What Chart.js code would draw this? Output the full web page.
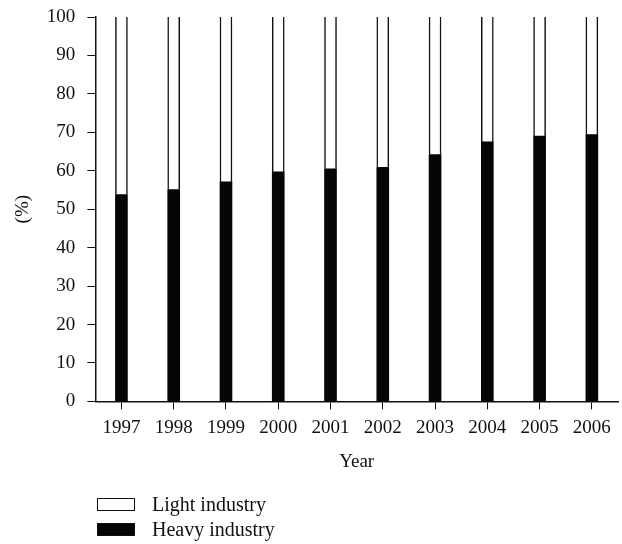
<!DOCTYPE html>
<html>
<head>
<meta charset="utf-8">
<script src="https://cdn.jsdelivr.net/npm/chart.js@4"></script>
<style>
  html, body { margin: 0; padding: 0; background: #fff; }
  #wrap { position: relative; width: 622px; height: 544px; }
  #legend { position: absolute; left: 97px; top: 498px; font-family: "Liberation Serif", serif; font-size: 20px; color: #111; }
  .item { display: flex; align-items: center; height: 13px; margin-bottom: 12px; white-space: nowrap; }
  .box { width: 38px; height: 13px; box-sizing: border-box; margin-right: 17px; flex: none; }
</style>
</head>
<body>
<div id="wrap">
  <canvas id="chart" width="622" height="544"></canvas>
  <div id="legend"></div>
</div>
<script>
// values
const years = ["1997", "1998", "1999", "2000", "2001", "2002", "2003", "2004", "2005", "2006"];
const heavy = [53.8, 55.1, 57.1, 59.7, 60.5, 60.9, 64.2, 67.5, 69.0, 69.4];
const light = heavy.map(v => +(100 - v).toFixed(1));
const yTicks = [0, 10, 20, 30, 40, 50, 60, 70, 80, 90, 100];

const font = { family: "Liberation Serif", size: 19 };
const ink = "#111";

const chart = new Chart(document.getElementById("chart"), {
  type: "bar",
  data: {
    labels: years,
    datasets: [
      {
        label: "Heavy industry",
        data: heavy,
        backgroundColor: "#050505",
        borderColor: "#050505",
        borderWidth: 0,
        barThickness: 12
      },
      {
        label: "Light industry",
        data: light,
        backgroundColor: "#fff",
        borderColor: "#111",
        borderWidth: { left: 1.5, right: 1.5, top: 0, bottom: 0 },
        borderSkipped: false,
        barThickness: 12
      }
    ]
  },
  options: {
    responsive: false,
    animation: false,
    layout: { padding: { left: 12, right: 4, top: 17, bottom: 71 } },
    plugins: { legend: { display: false }, tooltip: { enabled: false } },
    scales: {
      x: {
        stacked: true,
        grid: { drawOnChartArea: false, color: ink, tickLength: 8, offset: false },
        border: { color: ink, width: 1.5 },
        ticks: { color: ink, font: font, padding: 7, maxRotation: 0 },
        title: { display: true, text: "Year", color: ink, font: font, padding: { top: 4, bottom: 0 } }
      },
      y: {
        stacked: true,
        min: 0,
        max: 100,
        afterBuildTicks: axis => { axis.ticks = yTicks.map(v => ({ value: v })); },
        afterFit: axis => { axis.paddingTop = 0; axis.paddingBottom = 0; },
        grid: { drawOnChartArea: false, color: ink, tickLength: 8 },
        border: { color: ink, width: 1.5 },
        ticks: { color: ink, font: font, padding: 12 },
        title: { display: true, text: "(%)", color: ink, font: font, padding: { top: 0, bottom: 0 } }
      }
    }
  }
});

// legend below the chart, light first
const legend = document.getElementById("legend");
chart.data.datasets.slice().reverse().forEach(ds => {
  const item = document.createElement("div");
  item.className = "item";
  const box = document.createElement("span");
  box.className = "box";
  box.style.background = ds.backgroundColor;
  box.style.border = "1.5px solid #111";
  const txt = document.createElement("span");
  txt.textContent = ds.label;
  item.appendChild(box);
  item.appendChild(txt);
  legend.appendChild(item);
});
</script>
</body>
</html>
